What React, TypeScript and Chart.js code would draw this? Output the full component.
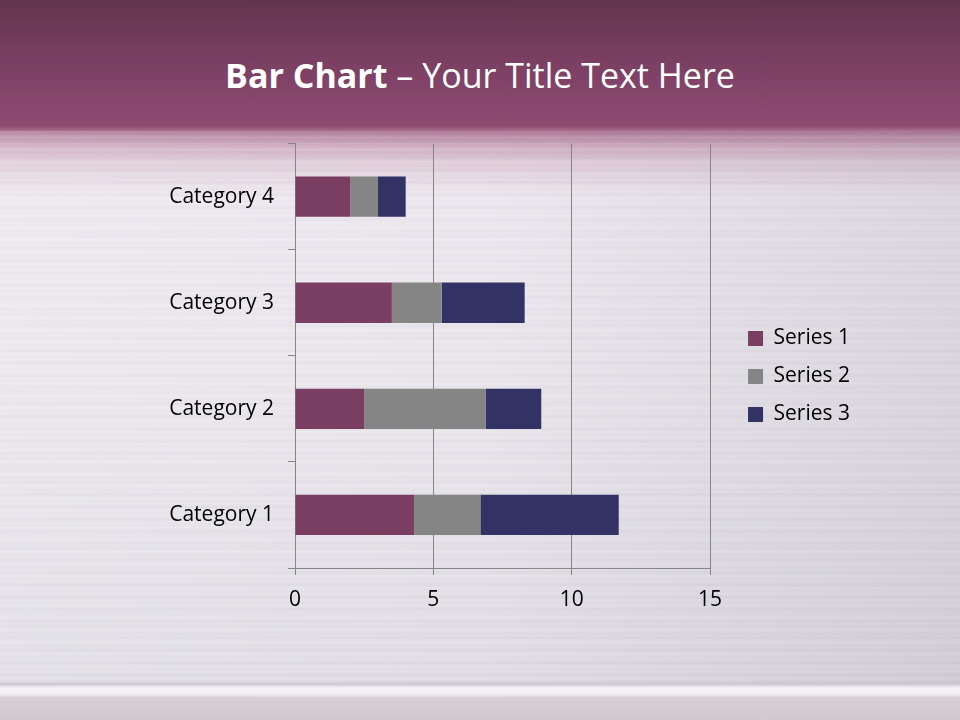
import React, { useEffect, useRef } from "react";
import { Chart, registerables } from "chart.js";

Chart.register(...registerables);

const categories = ["Category 1", "Category 2", "Category 3", "Category 4"];
const series1 = [4.3, 2.5, 3.5, 2];
const series2 = [2.4, 4.4, 1.8, 1];
const series3 = [5, 2, 3, 1];
const seriesNames = ["Series 1", "Series 2", "Series 3"];
const xTicks = [0, 5, 10, 15];

const FONT = "'Open Sans', 'Noto Sans', sans-serif";

const legendShift = {
  id: "legendShift",
  afterLayout(chart: any) {
    if (chart.legend) {
      chart.legend.left += 21;
      chart.legend.right += 21;
      chart.legend.top += 8;
      chart.legend.bottom += 8;
    }
  },
};

export default function App() {
  const ref = useRef<HTMLCanvasElement | null>(null);

  useEffect(() => {
    document.body.style.margin = "0";
    const ctx = ref.current!;
    const chart = new Chart(ctx, {
      type: "bar",
      data: {
        labels: categories,
        datasets: [
          { label: seriesNames[0], data: series1, backgroundColor: "#7a3e62" },
          { label: seriesNames[1], data: series2, backgroundColor: "#858585" },
          { label: seriesNames[2], data: series3, backgroundColor: "#323265" },
        ],
      },
      plugins: [legendShift],
      options: {
        indexAxis: "y",
        animation: false,
        responsive: false,
        maintainAspectRatio: false,
        layout: { padding: { left: 0, right: 121, top: 0, bottom: 0 } },
        datasets: { bar: { categoryPercentage: 1, barPercentage: 0.38 } } as any,
        scales: {
          x: {
            stacked: true,
            min: 0,
            max: 15,
            afterBuildTicks: (s: any) => {
              s.ticks = xTicks.map((v) => ({ value: v }));
            },
            afterFit: (s: any) => {
              s.height = 52;
            },
            grid: {
              color: "#868686",
              lineWidth: 1,
              drawTicks: true,
              tickLength: 7,
              tickColor: "#868686",
            },
            border: { color: "#868686", width: 1 },
            ticks: {
              color: "#000",
              font: { family: FONT, size: 21 },
              padding: 12,
            },
          },
          y: {
            stacked: true,
            reverse: true,
            afterFit: (s: any) => {
              s.width = 295;
            },
            grid: {
              offset: true,
              drawOnChartArea: false,
              drawTicks: true,
              tickLength: 7,
              tickColor: "#868686",
            },
            border: { color: "#868686", width: 1 },
            ticks: {
              color: "#000",
              font: { family: FONT, size: 21 },
              padding: 14,
            },
          },
        },
        plugins: {
          title: { display: false },
          tooltip: { enabled: false },
          legend: {
            position: "right",
            labels: {
              boxWidth: 15,
              boxHeight: 15,
              padding: 17,
              color: "#000",
              font: { family: FONT, size: 21 },
            },
          },
        },
      },
    });
    return () => chart.destroy();
  }, []);

  const bg =
    "linear-gradient(to bottom, #62344f 0px, #7a3f62 60px, #8e4b71 126px, #a8708f 131px, #c9a3b9 143px, #dfccd8 163px, #ece7ee 195px, #e8e5eb 400px, #dfdce4 680px, #cbc7d0 684px, #f6f4f8 688px, #f2eff4 694px, #d8cfd6 698px, #d2c8d0 720px)";

  const texture = [
    "linear-gradient(to right, rgba(255,255,255,0.12) 0%, rgba(255,255,255,0) 50%, rgba(80,70,95,0.10) 100%)",
    "repeating-linear-gradient(to bottom, rgba(255,255,255,0.12) 0px, rgba(255,255,255,0) 2px, rgba(110,100,125,0.025) 4px, rgba(255,255,255,0) 6px)",
    "repeating-linear-gradient(to bottom, rgba(255,255,255,0) 0px, rgba(255,255,255,0.10) 5px, rgba(255,255,255,0) 9px, rgba(100,90,115,0.025) 13px)",
  ].join(",");

  return (
    <div
      style={{
        position: "fixed",
        left: 0,
        top: 0,
        width: 960,
        height: 720,
        background: bg,
        overflow: "hidden",
      }}
    >
      <div
        style={{
          position: "absolute",
          left: 0,
          top: 131,
          width: 960,
          height: 552,
          background: texture,
        }}
      />
      <div
        style={{
          position: "absolute",
          left: 0,
          top: 52,
          width: 960,
          textAlign: "center",
          color: "#fff",
          fontFamily: FONT,
          fontSize: 34,
          lineHeight: "46px",
        }}
      >
        <span style={{ fontWeight: 700 }}>Bar Chart</span>
        <span> – Your Title Text Here</span>
      </div>
      <canvas
        ref={ref}
        width={960}
        height={503}
        style={{ position: "absolute", left: 0, top: 117 }}
      />
    </div>
  );
}
